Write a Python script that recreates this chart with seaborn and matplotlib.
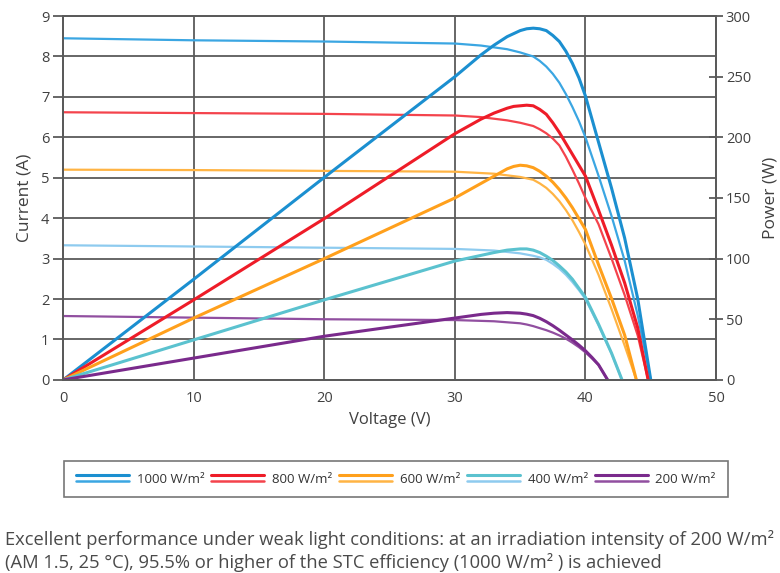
import numpy as np
import pandas as pd
import seaborn as sns
import matplotlib.pyplot as plt
from matplotlib.lines import Line2D
from matplotlib.legend_handler import HandlerBase

# I-V curves (current in A)
v_1000_i = [0, 10, 20, 30, 32, 34, 35, 36, 36.5, 37, 37.5, 38, 38.5, 39, 39.5, 40, 41, 42, 43, 44, 45]
i_1000 = [8.45, 8.40, 8.37, 8.32, 8.27, 8.18, 8.10, 8.00, 7.89, 7.75, 7.57, 7.35, 7.07, 6.75, 6.40, 6.00, 5.05, 4.05, 2.95, 1.60, 0]
v_800_i = [0, 10, 20, 30, 32, 34, 35, 36, 36.5, 37, 37.5, 38, 38.5, 39, 39.5, 40, 41, 42, 43, 44, 44.8]
i_800 = [6.62, 6.60, 6.58, 6.54, 6.50, 6.42, 6.36, 6.28, 6.20, 6.10, 5.97, 5.80, 5.52, 5.20, 4.86, 4.50, 3.85, 3.00, 2.10, 1.10, 0]
v_600_i = [0, 10, 20, 30, 33, 35, 36, 36.5, 37, 37.5, 38, 38.5, 39, 39.5, 40, 41, 42, 43, 43.9]
i_600 = [5.20, 5.19, 5.17, 5.15, 5.10, 5.02, 4.95, 4.86, 4.75, 4.60, 4.42, 4.20, 3.95, 3.66, 3.35, 2.60, 1.75, 0.85, 0]
v_400_i = [0, 10, 20, 30, 33, 35, 36, 36.5, 37, 37.5, 38, 38.5, 39, 39.5, 40, 41, 42, 42.8]
i_400 = [3.33, 3.30, 3.27, 3.24, 3.20, 3.13, 3.07, 3.03, 2.97, 2.87, 2.75, 2.60, 2.42, 2.22, 2.00, 1.35, 0.65, 0]
v_200_i = [0, 10, 20, 30, 33, 35, 35.5, 36, 36.5, 37, 37.5, 38, 38.5, 39, 39.5, 40, 40.5, 41, 41.7]
i_200 = [1.58, 1.54, 1.50, 1.48, 1.45, 1.40, 1.37, 1.33, 1.28, 1.23, 1.17, 1.10, 1.02, 0.92, 0.81, 0.68, 0.53, 0.37, 0]

# P-V curves (power in W)
v_1000_p = [0, 10, 20, 30, 32, 33, 34, 35, 35.5, 36, 36.5, 37, 37.5, 38, 38.5, 39, 39.5, 40, 41, 42, 43, 44, 45]
p_1000 = [0, 83, 167, 250, 268, 276, 283, 288, 289.5, 290, 289.5, 288, 284, 279, 271, 261, 249, 234, 196, 158, 117, 67, 0]
v_800_p = [0, 10, 20, 30, 32, 33, 34, 34.5, 35, 35.5, 36, 36.5, 37, 37.5, 38, 38.5, 39, 40, 41, 42, 43, 44, 44.8]
p_800 = [0, 66, 133, 203, 215, 220, 224, 225.5, 226, 226.5, 226, 223, 219, 212, 204, 195, 186, 168, 140, 111, 80, 43, 0]
v_600_p = [0, 10, 20, 30, 33, 34, 34.5, 35, 35.5, 36, 36.5, 37, 37.5, 38, 38.5, 39, 40, 41, 42, 43, 43.9]
p_600 = [0, 51, 100, 150, 168, 174, 176, 177, 176.5, 175, 172, 168, 163, 157, 150, 142, 124, 95, 67, 37, 0]
v_400_p = [0, 10, 20, 30, 33, 34, 35, 35.5, 36, 36.5, 37, 37.5, 38, 38.5, 39, 40, 41, 42, 42.8]
p_400 = [0, 33, 66, 98, 105, 107, 108, 108, 107, 105, 102, 98.5, 94, 89, 83, 68, 46, 22, 0]
v_200_p = [0, 10, 20, 30, 32, 33, 34, 35, 35.5, 36, 36.5, 37, 37.5, 38, 38.5, 39, 39.5, 40, 40.5, 41, 41.7]
p_200 = [0, 18, 36, 51, 54, 55, 55.5, 55, 54.2, 53, 50.8, 48, 44.7, 41, 37, 33, 28.7, 24, 18.5, 12.5, 0]

levels = ['1000 W/m²', '800 W/m²', '600 W/m²', '400 W/m²', '200 W/m²']
i_colors = ['#3ba6e2', '#f4434c', '#ffb444', '#8ecbef', '#914fa0']
p_colors = ['#1b8fd0', '#ee1c28', '#ffa01c', '#5bc2cf', '#7a2a8c']

iv = [(v_1000_i, i_1000), (v_800_i, i_800), (v_600_i, i_600), (v_400_i, i_400), (v_200_i, i_200)]
pv = [(v_1000_p, p_1000), (v_800_p, p_800), (v_600_p, p_600), (v_400_p, p_400), (v_200_p, p_200)]

sns.set_style('white')
plt.rcParams['font.family'] = ['Open Sans', 'DejaVu Sans']
txt = '#404040'
grid_c = '#5a5a5a'


class DoubleHandle:
    def __init__(self, c_top, c_bot):
        self.c_top = c_top
        self.c_bot = c_bot


class DoubleLine(HandlerBase):
    def create_artists(self, legend, orig, xdescent, ydescent, width, height, fontsize, trans):
        y = height / 2 - ydescent
        top = Line2D([-xdescent, width - xdescent], [y + 2.2] * 2, color=orig.c_top, lw=2.2, transform=trans)
        bot = Line2D([-xdescent, width - xdescent], [y - 2.2] * 2, color=orig.c_bot, lw=1.8, transform=trans)
        return [top, bot]


fig = plt.figure(figsize=(7.8, 5.73), dpi=100)
ax = fig.add_axes([0.081, 0.337, 0.837, 0.635])
ax2 = ax.twinx()

for (v, i), c in zip(iv, i_colors):
    sns.lineplot(x=v, y=i, ax=ax, color=c, lw=1.6, estimator=None, sort=False)
for (v, p), c in zip(pv, p_colors):
    sns.lineplot(x=v, y=p, ax=ax2, color=c, lw=2.2, estimator=None, sort=False)

ax.set_xlim(0, 50)
ax.set_ylim(0, 9)
ax2.set_ylim(0, 300)
ax.set_xticks(np.arange(0, 51, 10))
ax.set_yticks(np.arange(0, 10, 1))
ax2.set_yticks(np.arange(0, 301, 50))

ax.grid(True, color=grid_c, lw=1.3)
ax.set_axisbelow(True)
for a in (ax, ax2):
    for s in a.spines.values():
        s.set_color(grid_c)
        s.set_linewidth(1.3)

ax.tick_params(axis='y', direction='out', length=7, width=1.3, color=grid_c, labelcolor=txt, labelsize=10.5, pad=3)
ax.tick_params(axis='x', direction='out', length=4, width=1.3, color=grid_c, labelcolor=txt, labelsize=10.5, pad=4)
ax2.tick_params(axis='y', direction='inout', length=10, width=1.3, color=grid_c, labelcolor=txt, labelsize=10.5, pad=2)

ax.set_xlabel('Voltage (V)', fontsize=12, color=txt, labelpad=4)
ax.set_ylabel('Current (A)', fontsize=12.5, color=txt, labelpad=6)
ax2.set_ylabel('Power (W)', fontsize=12.5, color=txt, labelpad=8)

handles = [DoubleHandle(pc, ic) for pc, ic in zip(p_colors, i_colors)]
leg = fig.legend(handles, levels, handler_map={DoubleHandle: DoubleLine()},
                 loc='center', ncol=5, mode='expand',
                 bbox_to_anchor=(0.082, 0.127, 0.851, 0.074), borderaxespad=0,
                 fontsize=9.5, handlelength=4.0, handletextpad=0.6, columnspacing=0.5,
                 frameon=True, fancybox=False, borderpad=0.9)
leg.get_frame().set_edgecolor('#555555')
leg.get_frame().set_linewidth(1.2)
for t in leg.get_texts():
    t.set_color('#333333')

fig.text(0.006, 0.058, 'Excellent performance under weak light conditions: at an irradiation intensity of 200 W/m²',
         fontsize=13.2, color='#4a4a4a', va='center')
fig.text(0.006, 0.018, '(AM 1.5, 25 °C), 95.5% or higher of the STC efficiency (1000 W/m² ) is achieved',
         fontsize=13.2, color='#4a4a4a', va='center')

fig.savefig('out.png', dpi=100)
